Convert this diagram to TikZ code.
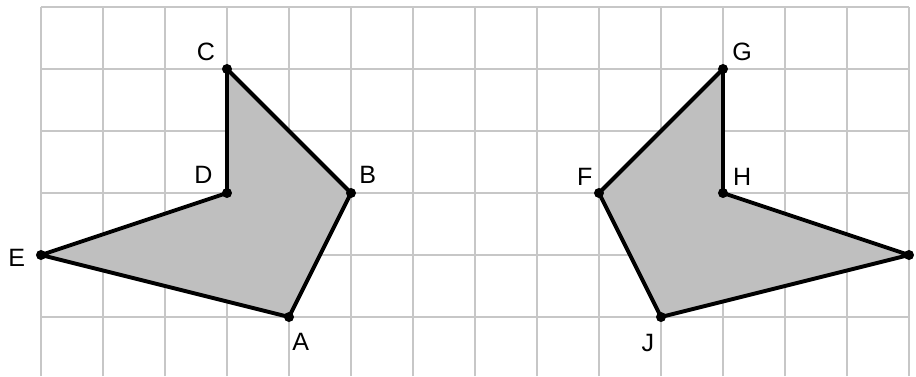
\documentclass[tikz,border=0pt]{standalone}
\usepackage{fontspec}
\setmainfont{Liberation Sans}
\usetikzlibrary{positioning}

\begin{document}
\begin{tikzpicture}[
  gridline/.style={line width=0.9pt,black!22},
  poly/.style={line width=1.8pt,black,fill=black!25,line join=round},
  pt/.style={circle,fill=black,inner sep=0pt,minimum size=4.6pt},
  lbl/.style={font=\fontsize{11.5}{14}\selectfont,inner sep=0pt}]
\useasboundingbox (-0.661,-0.952) rectangle (14.113,5.113);
% grid
\foreach \x in {0,...,14}
  \draw[gridline] (\x,-0.952) -- (\x,5);
\foreach \y in {0,...,5}
  \draw[gridline] (0,\y) -- (14,\y);
% left shape
\coordinate (E) at (0,1);  \coordinate (A) at (4,0);
\coordinate (B) at (5,2);  \coordinate (C) at (3,4);
\coordinate (D) at (3,2);
% right shape
\coordinate (K) at (14,1); \coordinate (J) at (10,0);
\coordinate (F) at (9,2);  \coordinate (G) at (11,4);
\coordinate (H) at (11,2);
\draw[poly] (E) -- (A) -- (B) -- (C) -- (D) -- cycle;
\draw[poly] (K) -- (J) -- (F) -- (G) -- (H) -- cycle;
\foreach \p in {A,B,C,D,E,F,G,H,J,K}
  \node[pt] (\p pt) at (\p) {};
% labels
\node[lbl] (labA) at ([shift={(0.19,-0.40)}]A) {A};
\node[lbl] (labB) at ([shift={(0.27,0.29)}]B) {B};
\node[lbl] (labC) at ([shift={(-0.34,0.27)}]C) {C};
\node[lbl] (labD) at ([shift={(-0.38,0.29)}]D) {D};
\node[lbl] (labE) at ([shift={(-0.39,-0.05)}]E) {E};
\node[lbl] (labF) at ([shift={(-0.23,0.26)}]F) {F};
\node[lbl] (labG) at ([shift={(0.31,0.27)}]G) {G};
\node[lbl] (labH) at ([shift={(0.31,0.26)}]H) {H};
\node[lbl] (labJ) at ([shift={(-0.21,-0.42)}]J) {J};
\end{tikzpicture}
\end{document}
